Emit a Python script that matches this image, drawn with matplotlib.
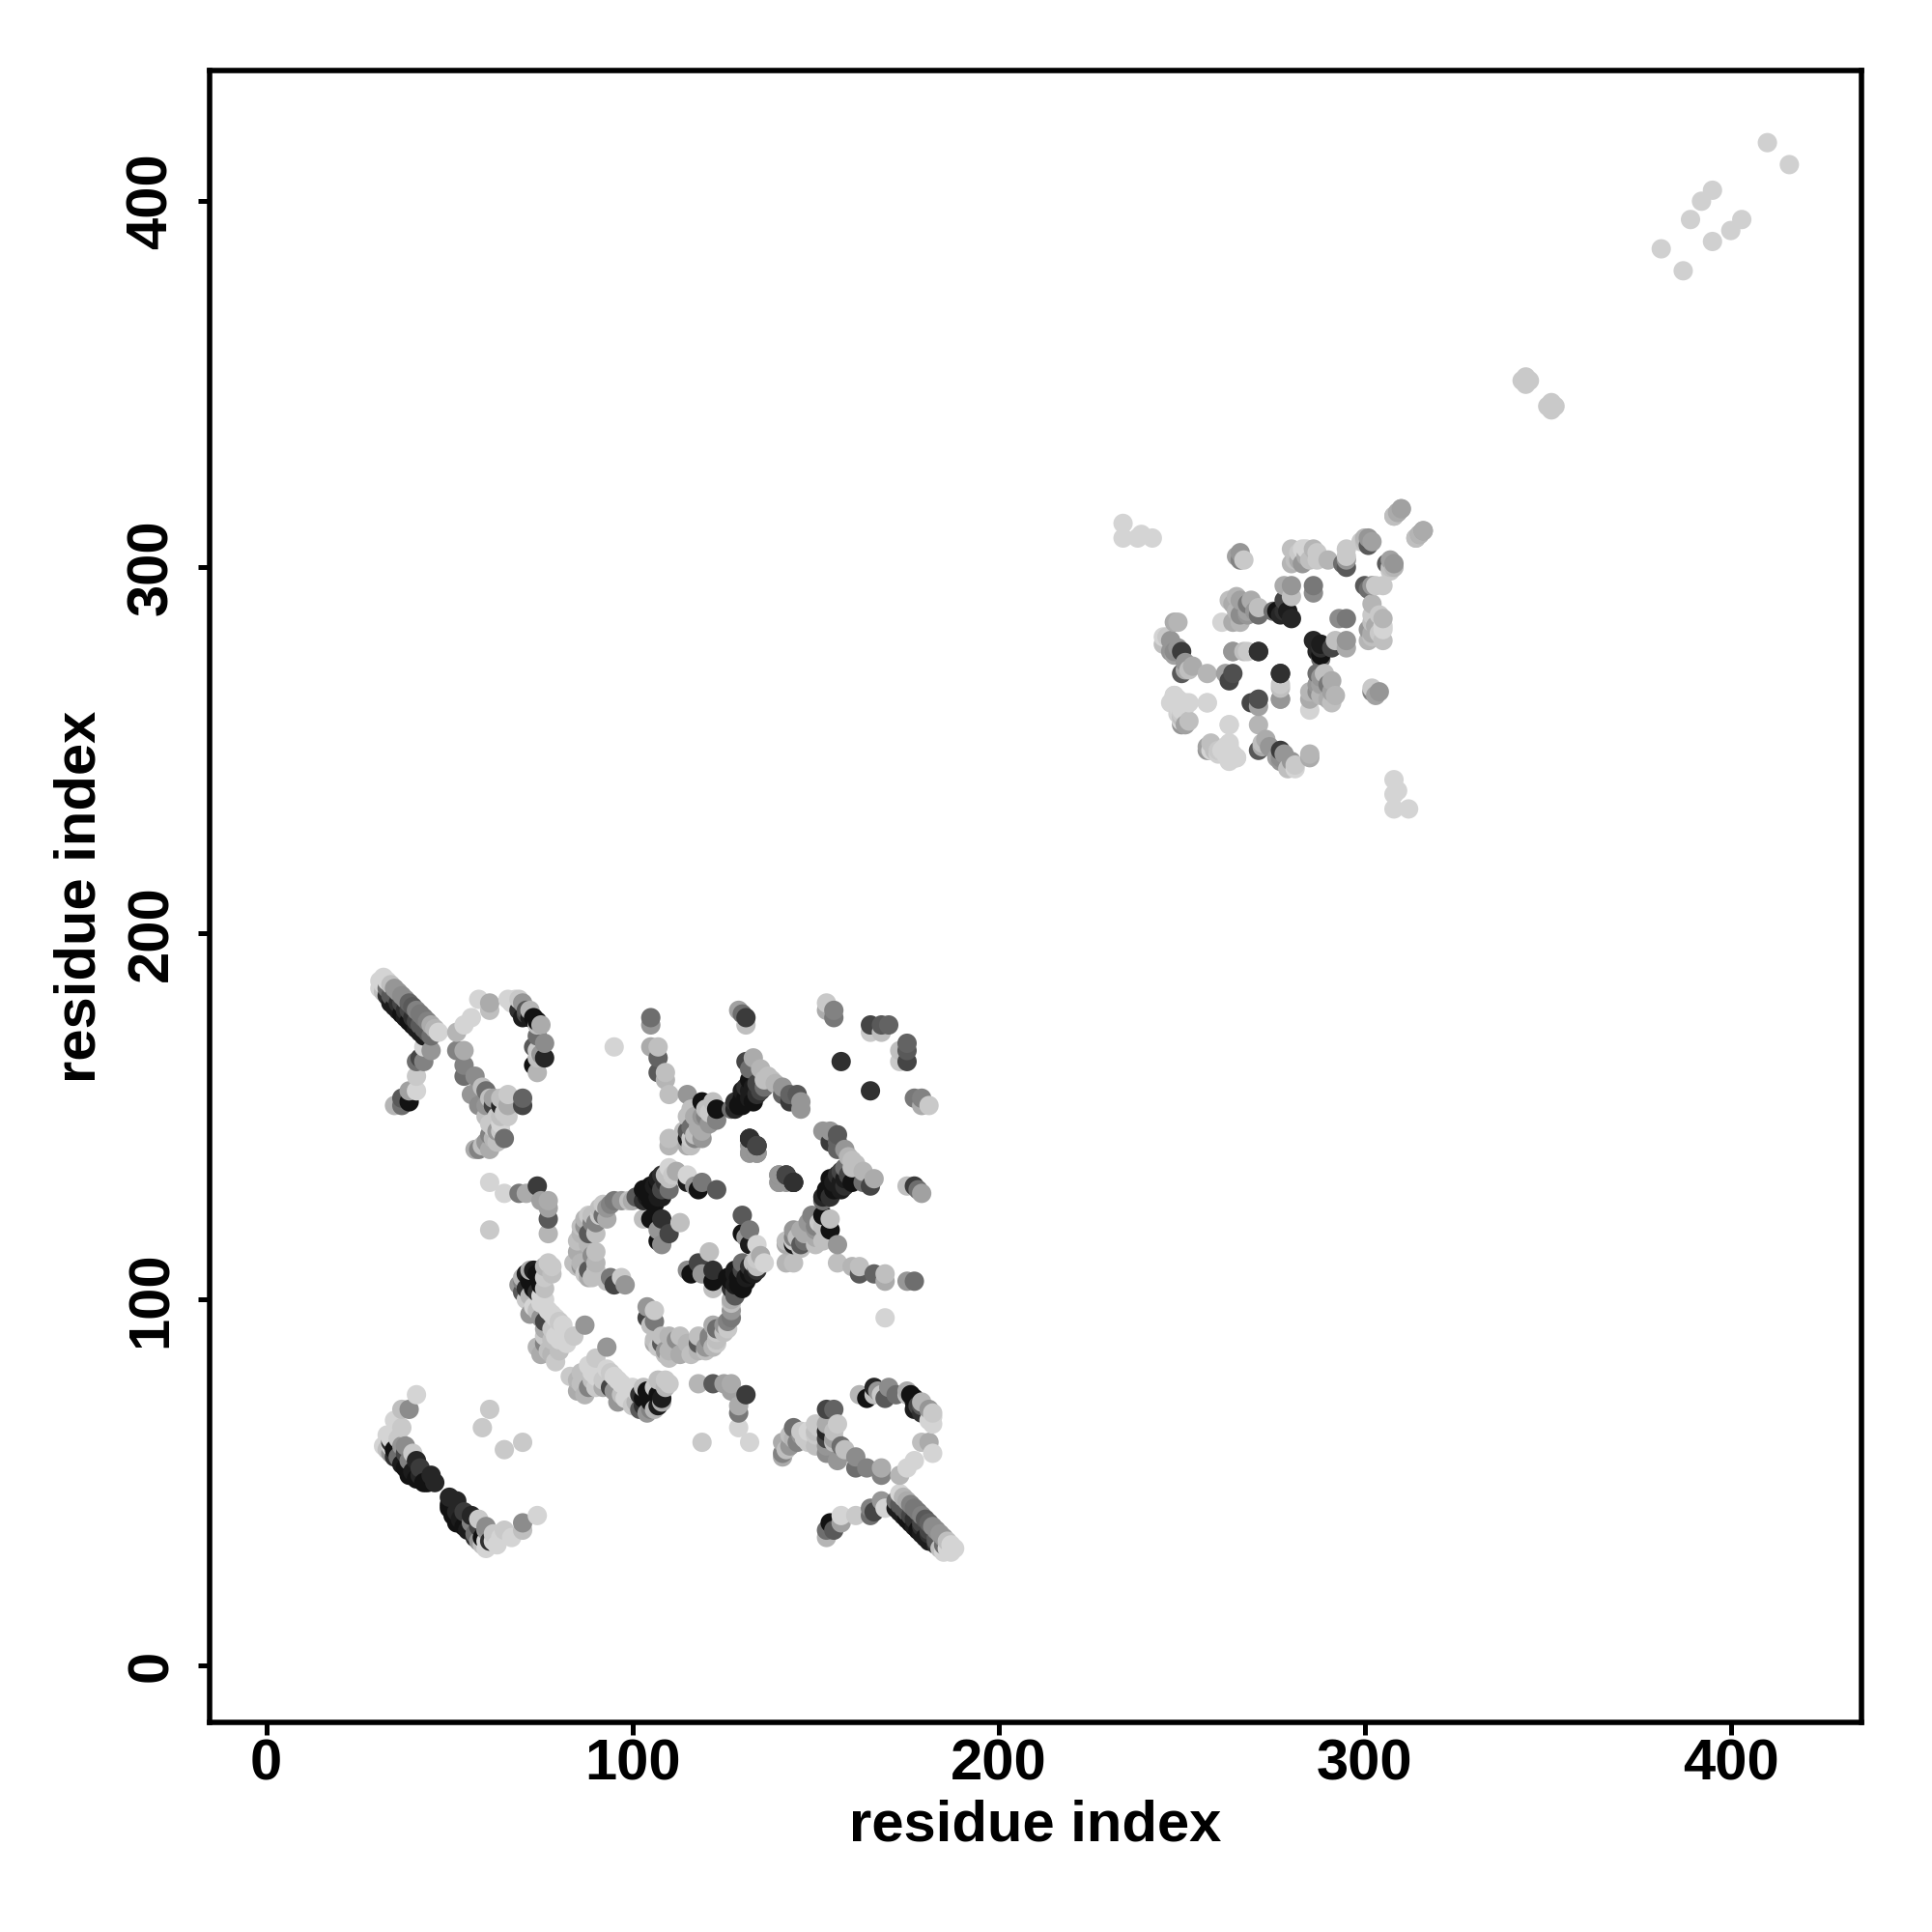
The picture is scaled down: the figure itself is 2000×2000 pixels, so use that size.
"""
Residue contact map, grey level follows contact strength.
Saves: out.png
"""

import matplotlib
matplotlib.use("Agg")
import matplotlib.pyplot as plt
import numpy as np

# contacts are (residue i, residue j, strength) with i < j, the map is symmetric
strand_a = [
    (31, 187, 0), (31, 185, 0), (32, 186, 0), (32, 188, 0), (32, 184, .1), (33, 187, 0), (33, 183, .8),
    (33, 185, .5), (34, 186, .1), (34, 183, .6), (34, 181, .9), (35, 185, .3), (35, 183, .6), (35, 180, .9),
    (36, 184, .3), (36, 181, .8), (36, 179, .9), (37, 183, .35), (37, 181, .7), (37, 178, .95),
    (38, 182, .35), (38, 179, .8), (38, 177, .9), (39, 181, .55), (39, 179, .7), (39, 176, .95),
    (40, 180, .6), (40, 177, .8), (40, 175, .95), (41, 179, .4), (41, 176, .7), (41, 174, .9),
    (42, 178, .45), (42, 175, .6), (42, 173, .9), (43, 177, .45), (43, 174, .6), (43, 172, .9),
    (44, 176, .4), (44, 173, .6), (45, 175, .2), (45, 172, .5), (46, 174, .15), (47, 173, 0),
]
strand_a_tail = [
    (35, 153, .15), (37, 155, .6), (37, 153, .5), (39, 154, .95), (39, 157, .25), (41, 157, 0),
    (41, 161, .05), (41, 165, .5), (42, 166, .7), (43, 165, .4), (43, 169, 0), (45, 168, .3),
]
loop_b = [
    (52, 173, .15), (52, 168, .4), (54, 175, 0), (54, 168, .2), (54, 164, .4), (54, 161, .5),
    (56, 177, 0), (56, 156, .3), (57, 161, .35), (57, 141, .2), (58, 182, 0), (58, 153, .35), (58, 141, .4),
    (59, 158, .1), (59, 142, .1), (60, 157, .5), (60, 153, .3), (60, 150, .1), (60, 143, .3),
    (61, 181, .2), (61, 179, .1), (61, 155, .1), (61, 148, .05), (61, 145, .4), (61, 141, .2),
    (62, 155, .25), (62, 153, .7), (62, 147, .05), (62, 144, .15), (63, 150, .05), (63, 146, .3), (63, 143, .1),
    (64, 155, .1), (64, 153, .85), (64, 150, .1), (64, 148, 0), (64, 146, .05), (65, 151, .05), (65, 144, .5),
    (66, 156, .05), (66, 153, .2), (66, 150, .05), (70, 155, .55), (70, 153, .7),
]
strand_c = [
    (66, 182, 0), (67, 181, 0), (68, 182, 0), (69, 182, .05), (69, 179, .8), (70, 181, .3), (70, 177, .9),
    (71, 179, .6), (71, 178, .7), (72, 179, .15), (72, 177, .9), (73, 177, .95), (73, 169, .6), (73, 164, .95),
    (74, 176, .95), (74, 175, .1), (74, 172, .5), (74, 168, .05), (74, 166, .1), (74, 162, .15),
    (75, 175, .2), (75, 167, .3), (76, 170, .35), (76, 166, .85),
]
contacts_130 = [
    (61, 132, 0), (61, 119, .05), (65, 129, 0), (69, 129, .45), (71, 129, .2), (74, 131, .75),
    (75, 127, .25), (77, 127, .2), (77, 125, .25), (77, 122, .6), (77, 118, .15),
]
arc_d = [
    (84, 110, .1), (85, 116, .1), (85, 113, .2), (85, 109, .1), (86, 120, .1), (86, 118, .15), (86, 110, .15),
    (86, 109, .3), (87, 122, .15), (87, 120, .3), (87, 107, .05), (88, 123, .05), (88, 118, .6), (88, 115, .15),
    (88, 108, .6), (88, 106, .2), (89, 123, .1), (89, 121, .4), (89, 112, .35), (89, 106, .1), (90, 121, .4),
    (90, 118, .1), (90, 113, .1), (90, 110, .15), (90, 108, .1), (91, 125, .1), (91, 123, .05), (92, 126, .05),
    (92, 123, .5), (93, 125, .3), (93, 122, .2), (93, 105, .1), (94, 126, .4), (94, 106, .45), (95, 127, .45),
    (95, 104, .7), (97, 127, .3), (97, 106, .05), (98, 104, .3),
]
strand_e = [
    (69, 104, .3), (70, 106, .15), (70, 105, .4), (70, 102, .6), (71, 107, .9), (71, 103, .8), (71, 100, .05),
    (72, 108, .2), (72, 105, .95), (72, 101, .15), (72, 96, .3), (73, 108, .9), (73, 103, .95), (73, 98, 0),
    (74, 107, .95), (74, 102, .8), (74, 97, .1), (74, 87, .15), (75, 104, .95), (75, 101, 0), (75, 99, 0),
    (75, 95, .3), (75, 85, .2), (76, 109, .15), (76, 106, .05), (76, 103, .1), (76, 100, 0), (76, 94, .7),
    (76, 92, .2), (76, 90, .05), (76, 88, .4), (77, 110, .05), (77, 97, 0), (77, 86, .1), (78, 109, .05),
    (78, 107, .1), (78, 96, 0), (78, 92, .05), (78, 89, .1), (78, 85, .15), (79, 95, 0), (79, 90, 0), (79, 83, .05),
    (80, 94, .05), (80, 89, 0), (80, 86, .1), (81, 93, 0), (81, 90, 0), (82, 88, 0), (84, 90, .05), (87, 93, .3),
]
strand_f = [
    (99, 127, .1), (100, 127, .2), (101, 128, .6), (102, 128, .6), (103, 130, .95), (103, 127, .8), (103, 122, .1),
    (104, 129, .95), (104, 128, .9), (105, 131, .95), (105, 127, .95), (105, 122, .95), (106, 131, .9),
    (106, 129, .95), (106, 126, .95), (107, 133, .9), (107, 132, .95), (107, 128, .9), (107, 119, .3),
    (107, 116, .95), (108, 134, .8), (108, 130, .7), (108, 128, .9), (108, 122, .8), (108, 115, .35),
    (109, 134, .1), (109, 132, .8), (110, 136, 0), (110, 133, .1), (110, 130, .5), (110, 118, .7), (111, 134, .05),
    (112, 135, .2), (113, 121, .1), (115, 134, 0), (115, 132, .9), (117, 131, .3), (119, 132, .45),
    (118, 130, .95), (123, 130, .6),
]
column_105 = [
    (95, 169, 0), (105, 177, .5), (105, 175, .3), (105, 169, .2), (107, 169, .1), (107, 166, .55),
    (107, 162, .6), (109, 162, .1), (109, 160, .15), (110, 156, .1), (110, 144, .1), (110, 142, .15),
]
knot_g = [
    (114, 146, .1), (115, 156, .3), (115, 150, .1), (115, 146, .6), (115, 144, .9), (115, 142, .2), (116, 152, .1),
    (116, 147, .5), (116, 144, .05), (116, 142, .1), (117, 150, .2), (117, 145, .1), (117, 144, .4), (118, 147, .2),
    (119, 154, .95), (119, 150, .3), (119, 146, .2), (119, 144, .3), (120, 152, .1), (120, 150, .4), (121, 151, .05),
    (121, 148, .3), (122, 154, .1), (123, 152, .95), (123, 149, .4),
]
top_pairs = [
    (129, 179, .25), (130, 178, .5), (131, 177, .75), (131, 175, .1), (153, 181, .05), (153, 179, .2),
    (155, 179, .4), (155, 177, .45), (157, 165, .8), (165, 175, .7), (165, 173, .05), (168, 175, .6),
    (168, 173, .1), (170, 175, .55),
]
strand_h = [
    (127, 152, .5), (128, 154, .8), (128, 152, .85), (129, 153, .95), (130, 157, .9), (130, 155, .95),
    (130, 153, .95), (131, 165, .7), (131, 158, .8), (131, 155, .95), (132, 163, .5), (132, 160, .95),
    (132, 157, .9), (132, 155, .9), (133, 166, .2), (133, 158, .9), (133, 154, .95), (134, 159, .7),
    (134, 156, .8), (135, 163, .15), (135, 157, .7), (136, 160, .1), (136, 158, .5), (137, 161, .1),
    (138, 160, .1), (139, 159, .15), (141, 158, .3), (141, 156, .55), (143, 156, .55), (143, 154, .75),
    (145, 156, .6), (146, 154, .3), (146, 152, .3),
]
pairs_140 = [
    (132, 144, .8), (132, 142, .3), (134, 142, .7), (134, 140, .35), (134, 140, .3), (132, 140, .3),
    (134, 142, .7), (132, 144, .8), (140, 134, .3), (140, 132, .3), (142, 134, .7), (144, 132, .8),
]
lower_left = [
    (32, 60, 0), (33, 63, 0), (33, 59, .1), (34, 62, 0), (34, 61, .8), (34, 60, 0), (34, 58, .3), (35, 67, 0),
    (35, 64, 0), (35, 59, .95), (35, 57, .8), (36, 62, .05), (36, 57, .5), (37, 70, .1), (37, 65, .05), (37, 60, .3),
    (37, 55, .9), (38, 60, .35), (38, 58, .7), (38, 54, .95), (39, 70, .35), (39, 56, .4), (39, 52, .95), (40, 58, .05),
    (40, 53, .9), (41, 74, 0), (41, 56, .85), (41, 51, .95), (42, 54, .75), (42, 52, .85), (43, 50, .95), (44, 50, .95),
    (45, 52, .85), (46, 50, .85), (59, 65, .05), (61, 70, .05),
]
domain2 = [
    (234, 312, 0), (234, 308, 0), (238, 308, 0), (239, 309, 0), (242, 308, 0), (245, 281, 0), (245, 279, .1),
    (246, 281, .05), (247, 280, .3), (247, 277, .3), (247, 263, 0), (248, 285, .2), (248, 277, .35), (248, 276, .25),
    (248, 265, 0), (248, 263, 0), (249, 285, .15), (249, 278, .3), (249, 264, 0), (249, 262, 0), (249, 260, .02),
    (250, 277, .75), (250, 271, .6), (250, 262, 0), (250, 259, .1), (251, 274, .3), (251, 272, .2), (251, 263, 0),
    (251, 257, .25), (252, 272, .1), (252, 263, 0), (252, 258, .1), (253, 273, .2), (257, 271, .15), (257, 263, 0),
    (257, 250, .3), (258, 250, 0), (260, 250, .05), (261, 285, 0), (261, 250, 0), (262, 271, .25), (262, 251, 0),
    (262, 249, 0), (263, 291, .1), (263, 269, .7), (263, 257, 0), (263, 250, 0), (264, 290, .2), (264, 285, .2),
    (264, 277, .3), (264, 271, .65), (265, 303, .25), (265, 292, .15), (265, 288, .15), (265, 248, 0),
    (266, 304, .3), (266, 302, .4), (266, 291, .25), (266, 287, .35), (266, 285, .15), (267, 302, .05), (267, 277, .1),
    (268, 290, .45), (268, 288, .25), (268, 287, .3), (269, 291, .2), (270, 288, .3), (271, 289, .1), (271, 287, .5),
    (271, 277, .8), (275, 288, .5), (276, 288, .95), (277, 287, .85), (277, 277, 0), (277, 271, .8), (277, 268, .05),
    (277, 264, .3), (278, 295, .2), (278, 291, .7), (278, 288, .8), (279, 288, .9), (280, 305, .1), (280, 301, .15),
    (280, 295, .3), (280, 292, .1), (280, 286, .85), (281, 302, .1), (282, 304, .05), (282, 302, .2), (283, 305, 0),
    (283, 301, .3), (284, 305, 0), (284, 303, .2), (285, 302, .1), (286, 305, .15), (286, 295, .45), (286, 293, .35),
    (287, 304, .05), (287, 302, .05), (290, 302, .15), (294, 301, .5), (295, 305, .05), (295, 303, .05), (295, 302, .3),
    (295, 300, .6), (299, 307, .05), (300, 308, .15), (300, 307, .1), (301, 308, .3), (301, 306, .6), (302, 307, .25),
    (308, 314, .1), (309, 315, .15), (310, 316, .2), (314, 308, .1), (315, 309, .2), (316, 310, .25),
]
far_pairs = [
    (343, 351, .05), (344, 352, .05), (344, 350, .05), (345, 351, .05), (381, 387, .02), (389, 395, .02),
    (392, 400, .02), (395, 403, .02), (410, 416, .02),
]

clusters = [strand_a, strand_a_tail, loop_b, strand_c, contacts_130, arc_d, strand_e, strand_f,
            column_105, knot_g, top_pairs, strand_h, pairs_140, lower_left, domain2, far_pairs]
contacts = np.array([c for cluster in clusters for c in cluster if c[0] != c[1]], dtype=float)

# mirror, then draw in x order like the original plot
x = np.concatenate([contacts[:, 0], contacts[:, 1]])
y = np.concatenate([contacts[:, 1], contacts[:, 0]])
strength = np.concatenate([contacts[:, 2], contacts[:, 2]])
order = np.lexsort((y, x))
greys = [str(round(0.83 - 0.8 * s, 3)) for s in strength[order]]

plt.rcParams["font.family"] = ["Liberation Sans", "DejaVu Sans"]
plt.rcParams["font.weight"] = "bold"

fig = plt.figure(figsize=(10, 10), dpi=200)
ax = fig.add_axes([217 / 2000, 217 / 2000, 1710 / 2000, 1710 / 2000])

ax.scatter(x[order], y[order], s=52, c=greys, linewidths=0, zorder=2)

ax.set_xlim(-15.5, 435.7)
ax.set_ylim(-15.5, 435.7)
ticks = [0, 100, 200, 300, 400]
ax.set_xticks(ticks)
ax.set_yticks(ticks)
ax.tick_params(axis="x", length=4.5, width=1.8, labelsize=21.5, pad=1.5)
ax.tick_params(axis="y", length=4.5, width=1.8, labelsize=21.5, pad=7)
for label in ax.get_yticklabels():
    label.set_rotation(90)
    label.set_va("center")
for spine in ax.spines.values():
    spine.set_linewidth(2)

ax.set_xlabel("residue index", fontsize=21.5, fontweight="bold", labelpad=3)
ax.set_ylabel("residue index", fontsize=21.5, fontweight="bold", labelpad=7)

fig.savefig("out.png", dpi=200)
plt.close(fig)
